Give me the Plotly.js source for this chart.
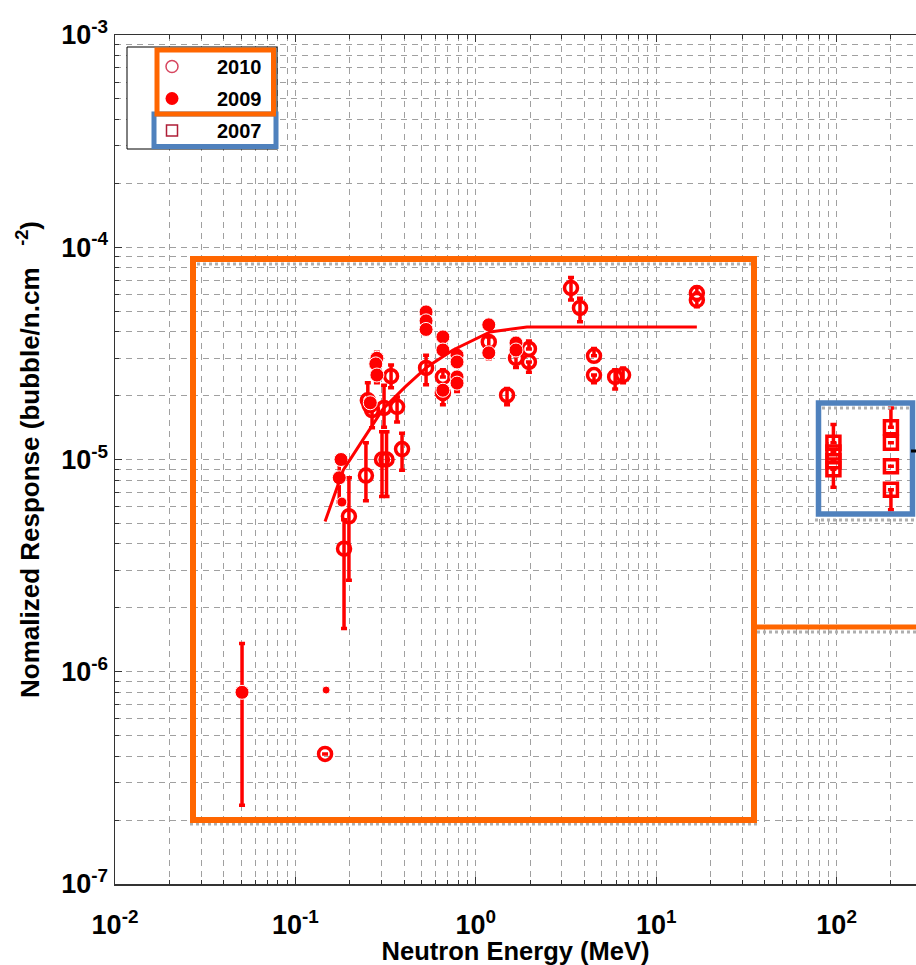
<!DOCTYPE html>
<html>
<head>
<meta charset="utf-8">
<script src="https://cdn.plot.ly/plotly-3.0.1.min.js"></script>
<style>html,body{margin:0;padding:0;background:#fff;}#chart{width:916px;height:965px;}</style>
</head>
<body>
<div id="chart"></div>
<script>
// ---------- data ----------
// 2010 (open circles)
const energy2010 = [0.146, 0.186, 0.198, 0.246, 0.252, 0.258, 0.266, 0.302, 0.320, 0.310, 0.366, 0.339, 0.390, 0.530, 0.657, 0.657, 1.18, 1.49, 1.67, 1.97, 1.97, 3.37, 3.78, 4.52, 4.52, 5.92, 6.55, 16.8, 16.8];
const resp2010   = [4.1e-7, 3.8e-6, 5.4e-6, 8.4e-6, 1.9e-5, 1.8e-5, 1.71e-5, 1.0e-5, 1.0e-5, 1.75e-5, 1.77e-5, 2.47e-5, 1.12e-5, 2.7e-5, 2.45e-5, 2.06e-5, 3.58e-5, 2.01e-5, 3.01e-5, 3.32e-5, 2.88e-5, 6.43e-5, 5.18e-5, 3.08e-5, 2.5e-5, 2.45e-5, 2.5e-5, 6.08e-5, 5.64e-5];
const errUp2010  = [0, 1.4e-6, 2.8e-6, 3.6e-6, 4e-6, 0, 0, 3.5e-6, 3.5e-6, 4.9e-6, 2e-6, 3.2e-6, 2.1e-6, 4e-6, 2e-6, 0, 2e-6, 1.5e-6, 2e-6, 3e-6, 0, 7.7e-6, 5.7e-6, 2.5e-6, 0, 2e-6, 2e-6, 4e-6, 0];
const errDn2010  = [0, 2.2e-6, 2.7e-6, 2.0e-6, 0, 0, 3e-6, 3.3e-6, 3.3e-6, 3.3e-6, 2.7e-6, 2.9e-6, 2.3e-6, 4.5e-6, 0, 2.5e-6, 2e-6, 2e-6, 3e-6, 0, 3e-6, 7.9e-6, 7.2e-6, 0, 2e-6, 3e-6, 2e-6, 0, 4e-6];

// 2009 (filled circles)
const energy2009 = [0.0506, 0.148, 0.179, 0.175, 0.181, 0.283, 0.279, 0.283, 0.260, 0.530, 0.530, 0.530, 0.657, 0.657, 0.657, 0.787, 0.787, 0.787, 0.787, 1.18, 1.18, 1.67, 1.67];
const resp2009   = [8.0e-7, 8.2e-7, 1.0e-5, 8.2e-6, 6.3e-6, 3.0e-5, 2.82e-5, 2.5e-5, 1.85e-5, 4.96e-5, 4.5e-5, 4.1e-5, 3.78e-5, 3.28e-5, 2.12e-5, 3.1e-5, 2.88e-5, 2.45e-5, 2.29e-5, 4.31e-5, 3.18e-5, 3.54e-5, 3.28e-5];
const errUp2009  = [5.6e-7, 0, 0, 1.8e-6, 0, 2e-6, 0, 0, 0, 2e-6, 0, 0, 2e-6, 0, 0, 2e-6, 0, 0, 0, 2e-6, 0, 2e-6, 0];
const errDn2009  = [5.65e-7, 0, 0, 1.9e-6, 0, 0, 0, 2e-6, 0, 0, 0, 2e-6, 0, 0, 2e-6, 0, 0, 0, 2e-6, 0, 2e-6, 0, 2e-6];

// 2007 (open squares)
const energy2007 = [96, 96, 96, 96, 200, 200, 200, 200];
const resp2007   = [1.2e-5, 1.08e-5, 9.8e-6, 9.0e-6, 1.42e-5, 1.2e-5, 9.3e-6, 7.2e-6];
const errUp2007  = [2.6e-6, 0, 0, 0, 3.3e-6, 0, 0, 0];
const errDn2007  = [0, 0, 0, 1.6e-6, 0, 0, 0, 1.4e-6];

// response curve
const fitEnergy = [0.146, 0.184, 0.237, 0.306, 0.406, 0.537, 0.748, 1.2, 1.92, 16.8];
const fitResp   = [5.1e-6, 8.9e-6, 1.24e-5, 1.73e-5, 2.2e-5, 2.73e-5, 3.28e-5, 3.99e-5, 4.21e-5, 4.21e-5];

// ticks
const xTickVals = [0.01, 0.1, 1, 10, 100];
const xTickText = ['10<sup>-2</sup>', '10<sup>-1</sup>', '10<sup>0</sup>', '10<sup>1</sup>', '10<sup>2</sup>'];
const yTickVals = [1e-7, 1e-6, 1e-5, 1e-4, 1e-3];
const yTickText = ['10<sup>-7</sup>', '10<sup>-6</sup>', '10<sup>-5</sup>', '10<sup>-4</sup>', '10<sup>-3</sup>'];
const legendNames = ['2010', '2009', '2007'];

// ---------- styling ----------
const FONT = 'Liberation Sans, Arial, Helvetica, sans-serif';
const RED = 'rgb(255,0,0)';
const GRID = '#a0a0a0';
const DASH = '6px,5px';

function minorVals(lo, hi) {
  const v = [];
  for (let e = lo; e < hi; e++) for (let m = 2; m <= 9; m++) v.push(m * Math.pow(10, e));
  return v;
}

// paper coordinates from pixel positions of the plot area (115..916 x 35..884)
const PX = p => (p - 115) / 801;
const PY = p => (884 - p) / 849;

const errStyle = {type: 'data', visible: true, color: RED, thickness: 3.5, width: 3};

const traces = [
  {
    x: energy2007, y: resp2007, type: 'scatter', mode: 'markers', showlegend: false,
    marker: {symbol: 'square-open', size: 13, color: RED, opacity: 1, line: {width: 3.5, color: RED}},
    error_y: Object.assign({array: errUp2007, arrayminus: errDn2007, symmetric: false}, errStyle)
  },
  {
    x: energy2010, y: resp2010, type: 'scatter', mode: 'markers', showlegend: false,
    marker: {symbol: 'circle-open', size: 13, color: RED, opacity: 1, line: {width: 3.5, color: RED}},
    error_y: Object.assign({array: errUp2010, arrayminus: errDn2010, symmetric: false}, errStyle)
  },
  {
    x: energy2009, y: resp2009, type: 'scatter', mode: 'markers', showlegend: false,
    marker: {symbol: 'circle', size: energy2009.map((_, i) => i === 0 ? 14 : (i === 1 ? 8 : (i === 4 ? 10 : 14))),
             sizemode: 'diameter', color: RED, opacity: 1},
    error_y: Object.assign({array: errUp2009, arrayminus: errDn2009, symmetric: false}, errStyle)
  },
  {
    x: fitEnergy, y: fitResp, type: 'scatter', mode: 'lines', showlegend: false,
    line: {color: RED, width: 3}
  },
  // legend entries
  {x: [null], y: [null], type: 'scatter', mode: 'markers', name: legendNames[0], legendgroup: 'a',
   marker: {symbol: 'circle-open', size: 12, color: 'rgb(215,70,95)', line: {width: 1.5, color: 'rgb(215,70,95)'}}},
  {x: [null], y: [null], type: 'scatter', mode: 'markers', name: legendNames[1], legendgroup: 'b',
   marker: {symbol: 'circle', size: 13, color: RED}},
  {x: [null], y: [null], type: 'scatter', mode: 'markers', name: legendNames[2], legendgroup: 'c',
   marker: {symbol: 'square-open', size: 11, color: 'rgb(175,30,55)', line: {width: 1.5, color: 'rgb(175,30,55)'}}}
];

const ORANGE = 'rgb(255,102,0)';
const BLUE = 'rgb(79,129,189)';
const SHADOW = 'rgb(175,175,175)';

const shapes = [
  // legend box
  {type: 'rect', xref: 'paper', yref: 'paper', x0: PX(127), x1: PX(277), y0: PY(149), y1: PY(47),
   fillcolor: 'white', line: {color: 'black', width: 1}, layer: 'above'},
  {type: 'rect', xref: 'paper', yref: 'paper', x0: PX(154), x1: PX(276), y0: PY(146.5), y1: PY(114),
   line: {color: BLUE, width: 5}, layer: 'above'},
  {type: 'rect', xref: 'paper', yref: 'paper', x0: PX(157), x1: PX(273.5), y0: PY(114), y1: PY(50),
   line: {color: ORANGE, width: 5}, layer: 'above'},
  // shadows
  {type: 'line', xref: 'paper', yref: 'paper', x0: PX(197), x1: PX(751), y0: PY(264), y1: PY(264), line: {color: SHADOW, width: 3, dash: 'dot'}, layer: 'above'},
  {type: 'line', xref: 'paper', yref: 'paper', x0: PX(190), x1: PX(757), y0: PY(824), y1: PY(824), line: {color: SHADOW, width: 3, dash: 'dot'}, layer: 'above'},
  {type: 'line', xref: 'paper', yref: 'paper', x0: PX(757), x1: 1, y0: PY(632), y1: PY(632), line: {color: SHADOW, width: 3, dash: 'dot'}, layer: 'above'},
  {type: 'line', xref: 'paper', yref: 'paper', x0: PX(822), x1: PX(910), y0: PY(408), y1: PY(408), line: {color: SHADOW, width: 3, dash: 'dot'}, layer: 'above'},
  {type: 'line', xref: 'paper', yref: 'paper', x0: PX(815), x1: 1, y0: PY(520), y1: PY(520), line: {color: SHADOW, width: 3, dash: 'dot'}, layer: 'above'},
  // highlight boxes
  {type: 'rect', xref: 'paper', yref: 'paper', x0: PX(193), x1: PX(754), y0: PY(820), y1: PY(259),
   line: {color: ORANGE, width: 6}, layer: 'above'},
  {type: 'line', xref: 'paper', yref: 'paper', x0: PX(754), x1: 1.01, y0: PY(627), y1: PY(627),
   line: {color: ORANGE, width: 5}, layer: 'above'},
  {type: 'rect', xref: 'paper', yref: 'paper', x0: PX(818.5), x1: PX(912.5), y0: PY(514), y1: PY(403),
   line: {color: BLUE, width: 5.5}, layer: 'above'},
  {type: 'line', xref: 'paper', yref: 'paper', x0: PX(911), x1: 1.01, y0: PY(451), y1: PY(451),
   line: {color: 'black', width: 3}, layer: 'above'}
];

const axisCommon = {
  type: 'log', tickmode: 'array', ticks: 'inside', ticklen: 7, tickwidth: 1, tickcolor: '#333',
  showline: true, linecolor: '#333', linewidth: 1.5, zeroline: false,
  showgrid: true, gridcolor: GRID, griddash: DASH, gridwidth: 1,
  tickfont: {family: FONT, size: 27, color: 'black', weight: 'bold'}
};

const layout = {
  width: 916, height: 965,
  margin: {l: 115, r: 0, t: 35, b: 81, pad: 0},
  paper_bgcolor: 'white', plot_bgcolor: 'white',
  showlegend: true,
  xaxis: Object.assign({}, axisCommon, {
    range: [-2, 2.44], tickvals: xTickVals, ticktext: xTickText, mirror: 'ticks',
    ticklabelstandoff: 16,
    minor: {tickmode: 'array', tickvals: minorVals(-2, 3), ticks: 'inside', ticklen: 4, tickcolor: '#333',
            showgrid: true, gridcolor: GRID, griddash: DASH, gridwidth: 1},
    title: {text: 'Neutron Energy (MeV)', font: {family: FONT, size: 25.5, color: 'black', weight: 'bold'}, standoff: 0}
  }),
  yaxis: Object.assign({}, axisCommon, {
    range: [-7, -3], tickvals: yTickVals, ticktext: yTickText, mirror: false,
    minor: {tickmode: 'array', tickvals: minorVals(-7, -3), ticks: 'inside', ticklen: 4, tickcolor: '#333',
            showgrid: true, gridcolor: GRID, griddash: DASH, gridwidth: 1},
    title: {text: 'Nomalized Response (bubble/n.cm&nbsp;&nbsp;&nbsp;<sup>-2</sup>)', font: {family: FONT, size: 26, color: 'black', weight: 'bold'}, standoff: 14}
  }),
  legend: {
    x: PX(127), y: PY(47), xanchor: 'left', yanchor: 'top',
    bgcolor: 'rgba(0,0,0,0)', borderwidth: 0,
    font: {family: FONT, size: 20, color: 'black', weight: 'bold'},
    itemwidth: 80, tracegroupgap: 3, traceorder: 'grouped'
  },
  shapes: shapes
};

Plotly.newPlot('chart', traces, layout, {displayModeBar: false, staticPlot: true});
</script>
</body>
</html>
